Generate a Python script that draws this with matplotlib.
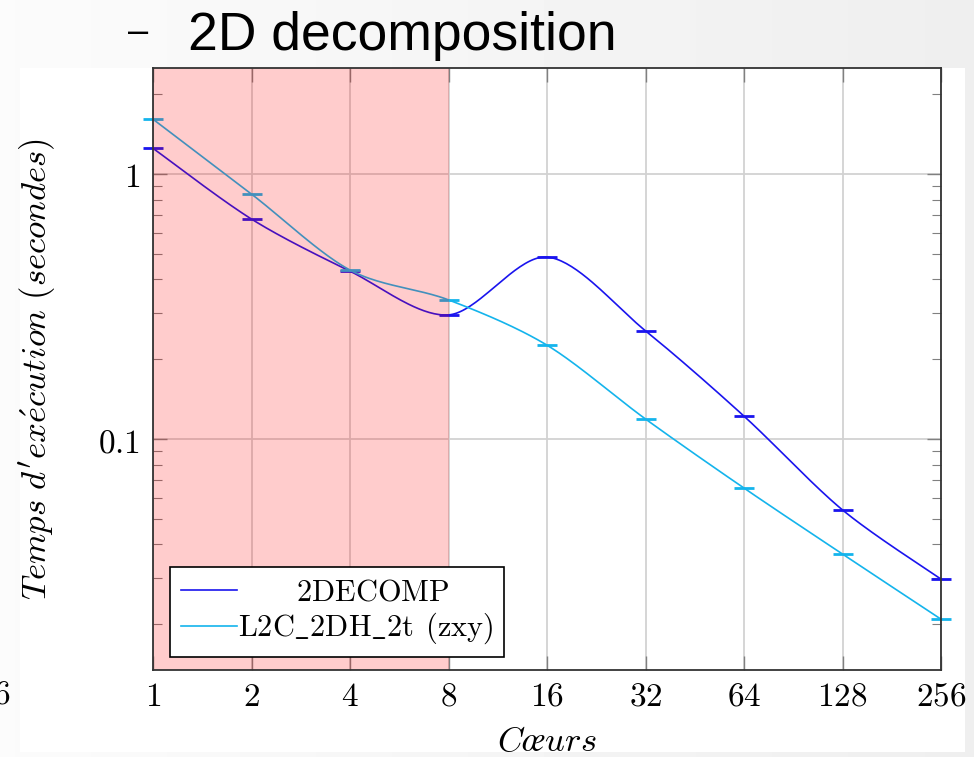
import numpy as np
import matplotlib
matplotlib.use('Agg')
import matplotlib.pyplot as plt
from matplotlib.ticker import LogLocator, NullFormatter, FixedLocator, FixedFormatter
from matplotlib.patches import Rectangle

plt.rcParams['mathtext.fontset'] = 'cm'

# data
cores = [1, 2, 4, 8, 16, 32, 64, 128, 256]
t_2decomp = [1.25, 0.676, 0.43, 0.294, 0.486, 0.256, 0.122, 0.054, 0.0296]
t_l2c = [1.61, 0.84, 0.434, 0.335, 0.226, 0.119, 0.0653, 0.0368, 0.0209]
x_labels = ['1', '2', '4', '8', '16', '32', '64', '128', '256']
y_ticks = [0.1, 1]
y_labels = ['0.1', '1']


def smooth(xs, ys, n=40, tension=0.55 * 0.2775):
    # tikz-like smooth curve, done in log-log space
    p = np.column_stack([np.log2(xs), np.log10(ys)])
    p = np.vstack([p[0], p, p[-1]])
    out = []
    for i in range(1, len(p) - 2):
        b0 = p[i]
        b3 = p[i + 1]
        b1 = b0 + tension * (p[i + 1] - p[i - 1])
        b2 = b3 - tension * (p[i + 2] - p[i])
        t = np.linspace(0, 1, n)[:, None]
        seg = ((1 - t) ** 3) * b0 + 3 * ((1 - t) ** 2) * t * b1 + 3 * (1 - t) * t ** 2 * b2 + t ** 3 * b3
        out.append(seg)
    out = np.vstack(out)
    return 2 ** out[:, 0], 10 ** out[:, 1]


def main():
    W, H = 974, 757
    fig = plt.figure(figsize=(W / 100, H / 100), dpi=100)

    # slide background
    bg = fig.add_axes([0, 0, 1, 1], zorder=-10)
    grad = np.linspace(0.985, 0.935, 256)[None, :]
    bg.imshow(grad, cmap='gray', vmin=0, vmax=1, aspect='auto', extent=[0, W, 0, H])
    bg.add_patch(Rectangle((20, H - 752), 945, 752 - 68, color='white', lw=0))
    bg.set_xlim(0, W)
    bg.set_ylim(0, H)
    bg.axis('off')

    fig.text(128 / W, 1 - 33 / H, '–', fontsize=26, family='Liberation Sans', va='center', ha='left')
    fig.text(188 / W, 1 - 50 / H, '2D decomposition', fontsize=38.5, family='Liberation Sans',
             va='baseline', ha='left')
    fig.text(10 / W, 1 - 704 / H, '$6$', fontsize=24, va='baseline', ha='right')

    ax = fig.add_axes([153 / W, 1 - 670 / H, (941 - 153) / W, (670 - 68) / H])
    ax.set_xscale('log', base=2)
    ax.set_yscale('log')
    ax.set_xlim(1, 256)
    ax.set_ylim(0.01344, 2.512)

    blue = '#1a14ee'
    cyan = '#14b4ec'
    sx, sy = smooth(cores, t_2decomp)
    ax.plot(sx, sy, color=blue, lw=1.2, zorder=2, label=r'$\mathrm{\hspace{2.2}2DECOMP}$')
    ax.plot(cores, t_2decomp, ls='none', marker='_', ms=14, mew=2, color=blue, zorder=2, clip_on=False)
    sx, sy = smooth(cores, t_l2c)
    ax.plot(sx, sy, color=cyan, lw=1.2, zorder=2, label=r'$\mathrm{L2C\_2DH\_2t\hspace{0.45}(zxy)}$')
    ax.plot(cores, t_l2c, ls='none', marker='_', ms=14, mew=2, color=cyan, zorder=2, clip_on=False)

    ax.axvspan(1, 8, color='red', alpha=0.2, lw=0, zorder=3)

    ax.xaxis.set_major_locator(FixedLocator(cores))
    ax.xaxis.set_major_formatter(FixedFormatter(['$%s$' % s for s in x_labels]))
    ax.xaxis.set_minor_locator(FixedLocator([]))
    ax.yaxis.set_major_locator(FixedLocator(y_ticks))
    ax.yaxis.set_major_formatter(FixedFormatter(['$%s$' % s for s in y_labels]))
    ax.yaxis.set_minor_locator(LogLocator(base=10, subs=np.arange(2, 10)))
    ax.yaxis.set_minor_formatter(NullFormatter())

    ax.tick_params(which='both', direction='in', top=True, right=True, color='#808080', labelsize=24)
    ax.tick_params(which='major', length=10, width=1)
    ax.tick_params(which='minor', length=6.5, width=0.8)
    ax.tick_params(axis='x', pad=7)
    ax.tick_params(axis='y', pad=9)
    ax.grid(True, which='major', color='#d2d2d2', lw=1.3, zorder=1)
    ax.set_axisbelow(True)
    for s in ax.spines.values():
        s.set_color('#333333')
        s.set_linewidth(1.3)
        s.set_zorder(5)

    ax.set_xlabel(r'$C\oe urs$', fontsize=25, va='top')
    ax.xaxis.set_label_coords(0.5, -0.09)
    ax.set_ylabel(r"$Temps\ d'ex\acute{e}cution\ (secondes)$", fontsize=25)
    ax.yaxis.set_label_coords(-0.12, 0.5)

    leg = ax.legend(loc='lower left', bbox_to_anchor=(0.0216, 0.0216), borderaxespad=0,
                    fancybox=False, edgecolor='black', framealpha=1, fontsize=21.8,
                    handlelength=1.85, handletextpad=0.05, borderpad=0.35, labelspacing=0.15)
    leg.get_frame().set_linewidth(1.2)
    leg.set_zorder(6)

    fig.savefig('out.png', dpi=100)


if __name__ == "__main__":
    main()
